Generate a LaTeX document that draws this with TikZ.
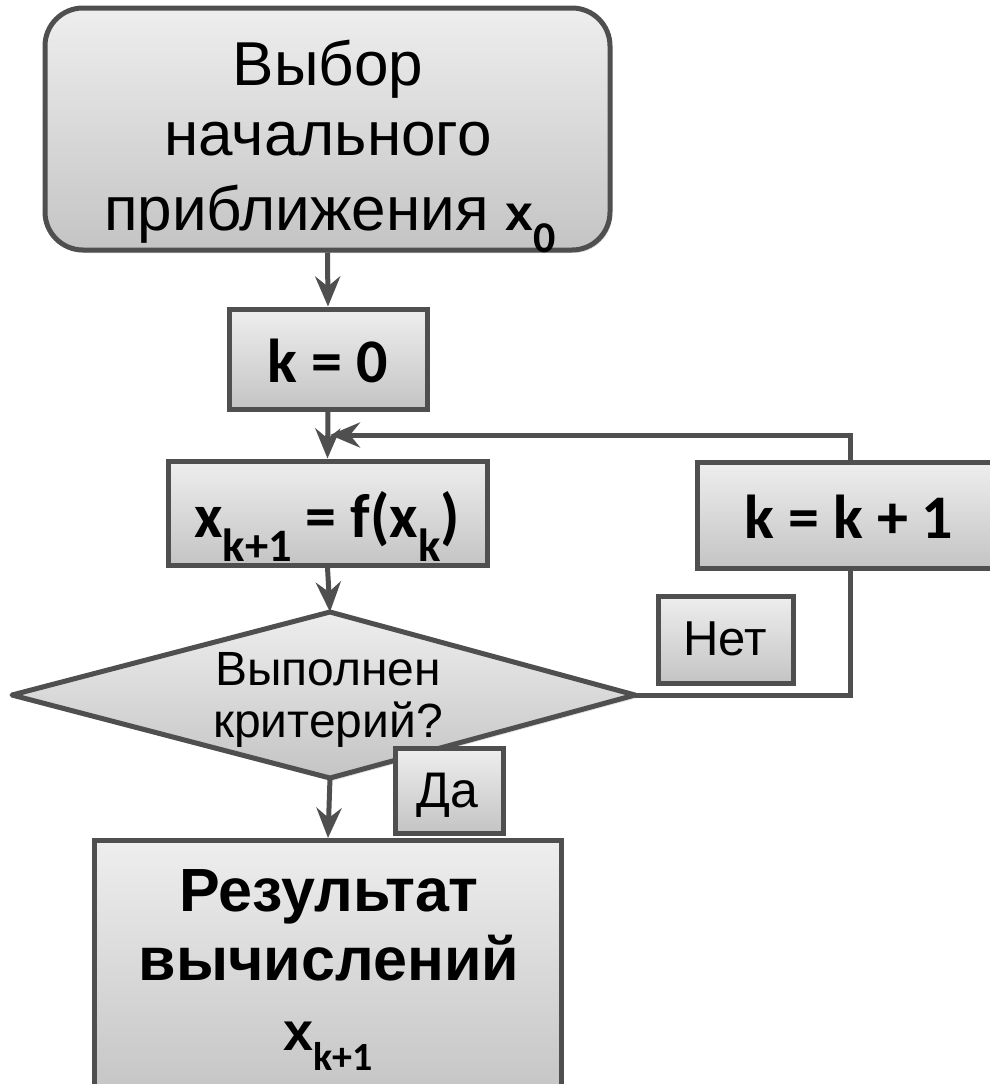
\documentclass[tikz,border=0pt]{standalone}
\usepackage{fontspec}
\setmainfont{Liberation Sans}
\newfontfamily\calfont{Carlito}
\usetikzlibrary{arrows.meta,shadows}
\definecolor{lc}{HTML}{4F4F4F}
\definecolor{ft}{HTML}{EEEEEE}
\definecolor{fb}{HTML}{C4C4C4}
\newcommand\lowsub[1]{\raisebox{-0.4em}{\scalebox{0.75}{#1}}}
\newcommand\dropsub[2]{\raisebox{-#1pt}{#2}}
\begin{document}
\begin{tikzpicture}[x=1pt,y=-1pt,
  box/.style={draw=lc, line width=5pt, top color=ft, bottom color=fb, inner sep=0pt,
    drop shadow={opacity=0.25, shadow xshift=2pt, shadow yshift=-3pt}},
  txt/.style={inner sep=0pt, anchor=base},
  arial/.style={font=\fontsize{#1}{#1}\selectfont},
  arialb/.style={font=\bfseries\fontsize{#1}{#1}\selectfont},
  cal/.style={font=\calfont\bfseries\fontsize{#1}{#1}\selectfont},
  arr/.style={draw=lc, line width=5pt, -{Stealth[length=30pt, width=25pt, inset=10pt]}},
  conn/.style={draw=lc, line width=5pt}]
\useasboundingbox (0,0) rectangle (990,1084);
% top rounded box
\node[box, rounded corners=38pt, minimum width=565pt, minimum height=242pt] (start) at (327.5,129) {};
\node[txt, arial=62] (t1) at (328,85) {Выбор};
\node[txt, arial=62] (t2) at (328,155) {начального};
\node[txt, arial=62] (t3) at (330,230) {приближения {\bfseries\fontsize{50}{50}\selectfont x}{\calfont\bfseries\fontsize{44}{44}\selectfont\dropsub{22}{0}}};
% k = 0
\node[box, minimum width=198pt, minimum height=100pt] (k0) at (328,359) {};
\node[txt, cal=62] (k0t) at (328,382) {k = 0};
% x_{k+1} = f(x_k)
\node[box, minimum width=319pt, minimum height=104pt] (xk) at (327.5,513) {};
\node[txt, cal=62] (xkt) at (327,537) {x\lowsub{k+1} = f(x\lowsub{k})};
% k = k + 1
\node[box, minimum width=306pt, minimum height=106pt] (kk) at (850,515) {};
\node[txt, cal=62] (kkt) at (849,538) {k = k + 1};
% diamond
\path[draw=lc, line width=5pt, top color=ft, bottom color=fb, line join=round,
  drop shadow={opacity=0.25, shadow xshift=2pt, shadow yshift=-3pt}]
  (12,695) coordinate (dl) -- (330,612) coordinate (dt) -- (635,695) coordinate (dr) -- (330,778) coordinate (db) -- cycle;
\node[txt, arial=48] (c1) at (328,685) {Выполнен};
\node[txt, arial=48] (c2) at (328,737) {критерий?};
% Нет
\node[box, minimum width=135pt, minimum height=87pt] (net) at (725.5,639.5) {};
\node[txt, arial=49] (nett) at (725,655) {Нет};
% result
\node[box, minimum width=467pt, minimum height=260pt, anchor=north] (res) at (328,838) {};
\node[txt, arialb=61] (r1) at (329,911) {Результат};
\node[txt, arialb=61] (r2) at (329,980) {вычислений};
\node[txt, arialb=54] (r3) at (328,1050) {x{\calfont\fontsize{40}{40}\selectfont\dropsub{20}{k+1}}};
% Да
\node[box, minimum width=108pt, minimum height=85pt] (da) at (449,790.5) {};
\node[txt, arial=50] (dat) at (447,807) {Да};
\coordinate (j) at (330,435);
% connectors
\draw[arr] (start.south) -- (k0.north);
\draw[arr] (k0.south) -- (xk.north);
\draw[arr] (xk.south) -- (dt);
\draw[arr] (db) -- (res.north);
\draw[conn] (dr) -| (kk.south);
\draw[arr] (kk.north) |- (j);
\end{tikzpicture}
\end{document}
